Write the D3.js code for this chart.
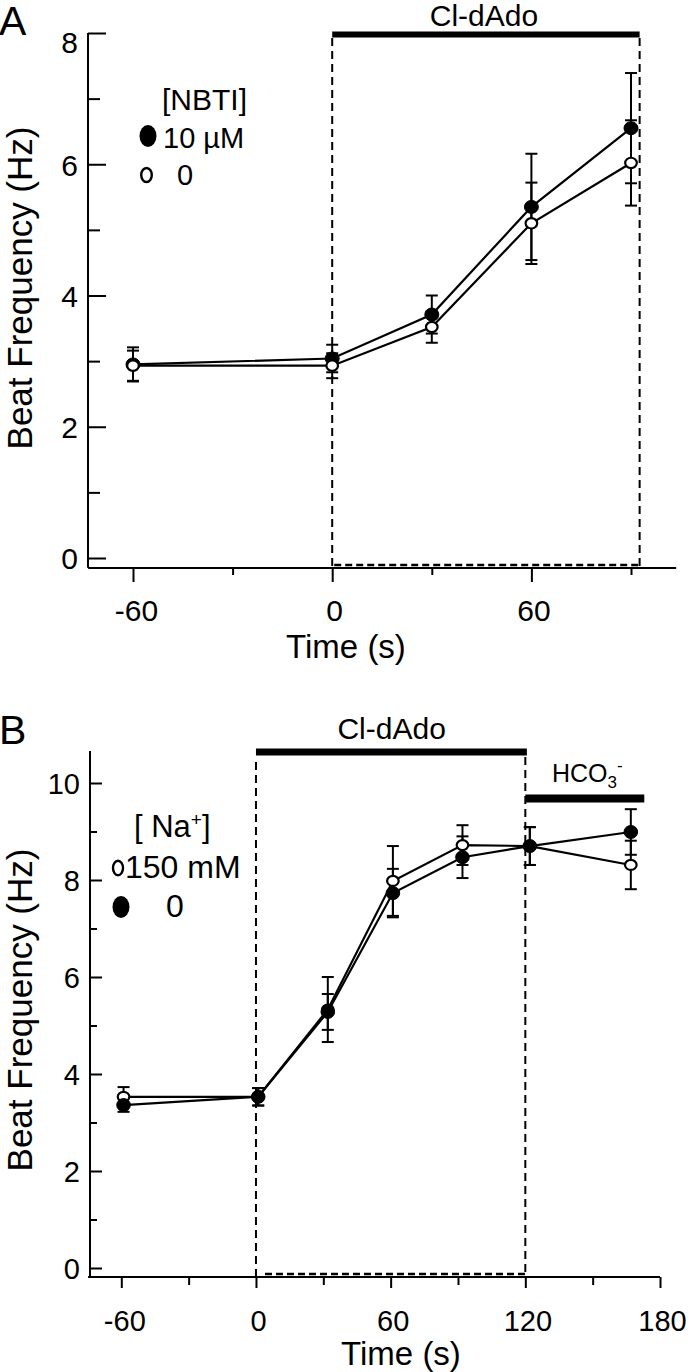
<!DOCTYPE html>
<html>
<head>
<meta charset="utf-8">
<script src="https://cdn.jsdelivr.net/npm/d3@7"></script>
<style>
  html, body { margin: 0; padding: 0; background: #fff; }
  svg { display: block; }
  text { font-family: "Liberation Sans", Arial, Helvetica, sans-serif; fill: #000; }
</style>
</head>
<body>
<svg id="chart" width="700" height="1372"></svg>
<script>
// ---------------- DATA ----------------
// Panel A: NBTI
const timesA = [-60, 0, 30, 60, 90];
const nbti10 = [2.95, 3.04, 3.71, 5.35, 6.55];
const nbti10Err = [0.26, 0.21, 0.29, 0.81, 0.84];
const nbti0 = [2.93, 2.93, 3.52, 5.10, 6.02];
const nbti0Err = [0.23, 0.19, 0.24, 0.62, 0.65];
const xTicksMajorA = [-60, 0, 60];
const xTicksMinorA = [-30, 30, 90];
const yTicksMajorA = [0, 2, 4, 6, 8];
const yTicksMinorA = [1, 3, 5, 7];
const clAdoA = [0, 92.6];

// Panel B: Na+
const timesB = [-59, 1, 32, 61, 92, 122, 167];
const na150 = [3.53, 3.53, 5.33, 7.98, 8.72, 8.70, 8.31];
const na150Err = [0.20, 0.18, 0.67, 0.72, 0.41, 0.39, 0.50];
const na0 = [3.36, 3.53, 5.28, 7.73, 8.47, 8.70, 8.99];
const na0Err = [0.14, 0.18, 0.37, 0.50, 0.43, 0.39, 0.47];
const xTicksMajorB = [-60, 0, 60, 120, 180];
const xTicksMinorB = [-30, 30, 90, 150];
const yTicksMajorB = [0, 2, 4, 6, 8, 10];
const yTicksMinorB = [1, 3, 5, 7, 9];
const clAdoB = [0, 120.7];
const hco3B = [120, 173];

// ---------------- DRAW ----------------
const svg = d3.select("#chart");
const fmt = d => String(d);   // plain hyphen-minus like the original

function drawPanel(cfg) {
  const g = svg.append("g");
  const x = d3.scaleLinear().domain(cfg.xDomain).range(cfg.xRange);
  const y = d3.scaleLinear().domain(cfg.yDomain).range(cfg.yRange);

  // axis lines
  g.append("line").attr("x1", cfg.yAxisX).attr("x2", cfg.yAxisX)
    .attr("y1", y(cfg.yExtent[0])).attr("y2", y(cfg.yExtent[1]))
    .attr("stroke", "#000").attr("stroke-width", 2);
  g.append("line").attr("x1", x(cfg.xExtent[0])).attr("x2", x(cfg.xExtent[1]))
    .attr("y1", cfg.xAxisY).attr("y2", cfg.xAxisY)
    .attr("stroke", "#000").attr("stroke-width", 2);

  // y axes (ticks inside)
  const yMaj = g.append("g").attr("transform", `translate(${cfg.yAxisX},0)`)
    .call(d3.axisLeft(y).tickValues(cfg.yMajor).tickFormat(fmt).tickSizeInner(-cfg.yMajLen).tickSizeOuter(0).tickPadding(cfg.yPad));
  const yMin = g.append("g").attr("transform", `translate(${cfg.yAxisX},0)`)
    .call(d3.axisLeft(y).tickValues(cfg.yMinor).tickSizeInner(-cfg.yMinLen).tickSizeOuter(0).tickFormat(""));
  // x axes
  const xMaj = g.append("g").attr("transform", `translate(0,${cfg.xAxisY})`)
    .call(d3.axisBottom(x).tickValues(cfg.xMajor).tickFormat(fmt).tickSize(cfg.xMajLen).tickSizeOuter(0).tickPadding(cfg.xPad));
  const xMin = g.append("g").attr("transform", `translate(0,${cfg.xAxisY})`)
    .call(d3.axisBottom(x).tickValues(cfg.xMinor).tickSize(cfg.xMinLen).tickSizeOuter(0).tickFormat(""));
  [yMaj, yMin, xMaj, xMin].forEach(a => {
    a.select(".domain").remove();
    a.selectAll(".tick line").attr("stroke", "#000").attr("stroke-width", 2);
    a.selectAll("text").attr("font-size", cfg.tickFont).attr("font-family", null).attr("fill", "#000");
  });
  yMaj.selectAll("text").attr("dy", d => (d === cfg.yTopShiftVal ? cfg.yTopShift : 0) + cfg.tickFont * 0.36);
  xMaj.selectAll("text").attr("dy", "0.71em").attr("dx", d => d < 0 ? 3 : 2);

  // dashed region
  const dash = "8,5";
  g.append("line").attr("x1", x(cfg.region[0])).attr("x2", x(cfg.region[0]))
    .attr("y1", cfg.regionLeftTop).attr("y2", cfg.xAxisY)
    .attr("stroke", "#000").attr("stroke-width", 2).attr("stroke-dasharray", dash);
  g.append("line").attr("x1", x(cfg.region[1])).attr("x2", x(cfg.region[1]))
    .attr("y1", cfg.regionRightTop).attr("y2", cfg.xAxisY)
    .attr("stroke", "#000").attr("stroke-width", 2).attr("stroke-dasharray", dash);
  g.append("line").attr("x1", x(cfg.region[0]) + cfg.bottomDashInset).attr("x2", x(cfg.region[1]))
    .attr("y1", cfg.xAxisY - 3).attr("y2", cfg.xAxisY - 3)
    .attr("stroke", "#000").attr("stroke-width", 2.5).attr("stroke-dasharray", "7,4");

  // bars
  cfg.bars.forEach(b => {
    g.append("line").attr("x1", x(b.range[0])).attr("x2", x(b.range[1]))
      .attr("y1", b.y).attr("y2", b.y).attr("stroke", "#000").attr("stroke-width", b.w);
  });

  // series
  const line = d3.line().x(d => x(d.t)).y(d => y(d.v));
  const ser = cfg.series.map(s => ({
    filled: s.filled,
    pts: s.times.map((t, i) => ({t, v: s.vals[i], e: s.errs[i]}))
  }));
  ser.forEach(s => {
    g.append("path").datum(s.pts).attr("d", line)
      .attr("fill", "none").attr("stroke", "#000").attr("stroke-width", 2.2);
  });
  ser.forEach(s => {
    const eb = g.append("g");
    eb.selectAll("line.v").data(s.pts).join("line")
      .attr("x1", d => x(d.t)).attr("x2", d => x(d.t))
      .attr("y1", d => y(d.v - d.e)).attr("y2", d => y(d.v + d.e))
      .attr("stroke", "#000").attr("stroke-width", 2);
    [-1, 1].forEach(sg => {
      eb.selectAll(null).data(s.pts).join("line")
        .attr("x1", d => x(d.t) - 6).attr("x2", d => x(d.t) + 6)
        .attr("y1", d => y(d.v + sg * d.e)).attr("y2", d => y(d.v + sg * d.e))
        .attr("stroke", "#000").attr("stroke-width", 2);
    });
  });
  cfg.markerOrder.forEach(idx => {
    const s = ser[idx];
    g.selectAll(null).data(s.pts).join("ellipse")
      .attr("cx", d => x(d.t)).attr("cy", d => y(d.v))
      .attr("rx", s.filled ? cfg.fillR[0] : cfg.openR[0])
      .attr("ry", s.filled ? cfg.fillR[1] : cfg.openR[1])
      .attr("fill", s.filled ? "#000" : "#fff")
      .attr("stroke", "#000").attr("stroke-width", s.filled ? 1 : 2.2);
  });

  // axis titles
  g.append("text").attr("transform", `translate(${cfg.yTitle[0]},${cfg.yTitle[1]}) rotate(-90)`)
    .attr("text-anchor", "middle").attr("font-size", 35).text("Beat Frequency (Hz)");
  g.append("text").attr("x", cfg.xTitle[0]).attr("y", cfg.xTitle[1])
    .attr("text-anchor", "middle").attr("font-size", 33).text("Time (s)");
  // panel letter
  g.append("text").attr("x", -1).attr("y", cfg.letterY).attr("font-size", 41).text(cfg.letter);
  return {g, x, y};
}

// Panel A
const A = drawPanel({
  letter: "A", letterY: 35,
  xDomain: [-60, 90], xRange: [133, 631],
  yDomain: [0, 8], yRange: [558, 33],
  xExtent: [-73.5, 103.6], yExtent: [-0.15, 8],
  yAxisX: 88, xAxisY: 568,
  yMajor: yTicksMajorA, yMinor: yTicksMinorA, yMajLen: 18, yMinLen: 12, yPad: 10,
  yTopShiftVal: 8, yTopShift: 9,
  xMajor: xTicksMajorA, xMinor: xTicksMinorA, xMajLen: 14, xMinLen: 7, xPad: 18,
  tickFont: 30,
  region: clAdoA, regionLeftTop: 38, regionRightTop: 38, bottomDashInset: 2,
  bars: [{range: clAdoA, y: 34.5, w: 6}],
  series: [
    {times: timesA, vals: nbti10, errs: nbti10Err, filled: true},
    {times: timesA, vals: nbti0, errs: nbti0Err, filled: false}
  ],
  markerOrder: [0, 1],
  fillR: [7, 6.5], openR: [5.8, 5.2],
  yTitle: [32, 288], xTitle: [346, 658]
});
A.g.append("text").attr("x", A.x(clAdoA[0] + (clAdoA[1] - clAdoA[0]) / 2) - 2).attr("y", 26)
  .attr("text-anchor", "middle").attr("font-size", 30).text("Cl-dAdo");
// legend A
A.g.append("text").attr("x", 162).attr("y", 110).attr("font-size", 30).text("[NBTI]");
A.g.append("ellipse").attr("cx", 148).attr("cy", 136).attr("rx", 8.5).attr("ry", 11).attr("fill", "#000");
A.g.append("text").attr("x", 163).attr("y", 148).attr("font-size", 29).text("10 µM");
A.g.append("ellipse").attr("cx", 146.5).attr("cy", 175).attr("rx", 5.3).attr("ry", 7)
  .attr("fill", "#fff").attr("stroke", "#000").attr("stroke-width", 2.4);
A.g.append("text").attr("x", 177).attr("y", 185).attr("font-size", 29).text("0");

// Panel B
const B = drawPanel({
  letter: "B", letterY: 744,
  xDomain: [-60, 180], xRange: [121.3, 660],
  yDomain: [0, 10], yRange: [1268, 783],
  xExtent: [-74.8, 180], yExtent: [-0.18, 10.66],
  yAxisX: 90, xAxisY: 1277,
  yMajor: yTicksMajorB, yMinor: yTicksMinorB, yMajLen: 12, yMinLen: 7, yPad: 10,
  yTopShiftVal: null, yTopShift: 0,
  xMajor: xTicksMajorB, xMinor: xTicksMinorB, xMajLen: 11, xMinLen: 8, xPad: 22,
  tickFont: 29,
  region: [0, 120], regionLeftTop: 762, regionRightTop: 757, bottomDashInset: 9,
  bars: [{range: clAdoB, y: 752, w: 7}, {range: hco3B, y: 798.5, w: 8}],
  series: [
    {times: timesB, vals: na150, errs: na150Err, filled: false},
    {times: timesB, vals: na0, errs: na0Err, filled: true}
  ],
  markerOrder: [0, 1],
  fillR: [6.8, 6.5], openR: [5.8, 5],
  yTitle: [32, 1010], xTitle: [401, 1365]
});
B.g.append("text").attr("x", B.x(60) + 1).attr("y", 739)
  .attr("text-anchor", "middle").attr("font-size", 30).text("Cl-dAdo");
const hco = B.g.append("text").attr("x", 552).attr("y", 782).attr("font-size", 25);
hco.append("tspan").text("HCO");
hco.append("tspan").attr("font-size", 17).attr("dy", 6).text("3");
hco.append("tspan").attr("font-size", 17).attr("dy", -17).text("-");
// legend B
const naT = B.g.append("text").attr("x", 134).attr("y", 837).attr("font-size", 31);
naT.append("tspan").text("[ Na");
naT.append("tspan").attr("font-size", 19).attr("dy", -11).text("+");
naT.append("tspan").attr("dy", 11).text("]");
B.g.append("ellipse").attr("cx", 118).attr("cy", 868).attr("rx", 5).attr("ry", 7.3)
  .attr("fill", "#fff").attr("stroke", "#000").attr("stroke-width", 2.4);
B.g.append("text").attr("x", 125).attr("y", 878).attr("font-size", 32).text("150 mM");
B.g.append("ellipse").attr("cx", 121).attr("cy", 907).attr("rx", 8.5).attr("ry", 11).attr("fill", "#000");
B.g.append("text").attr("x", 166).attr("y", 917).attr("font-size", 32).text("0");
</script>
</body>
</html>
